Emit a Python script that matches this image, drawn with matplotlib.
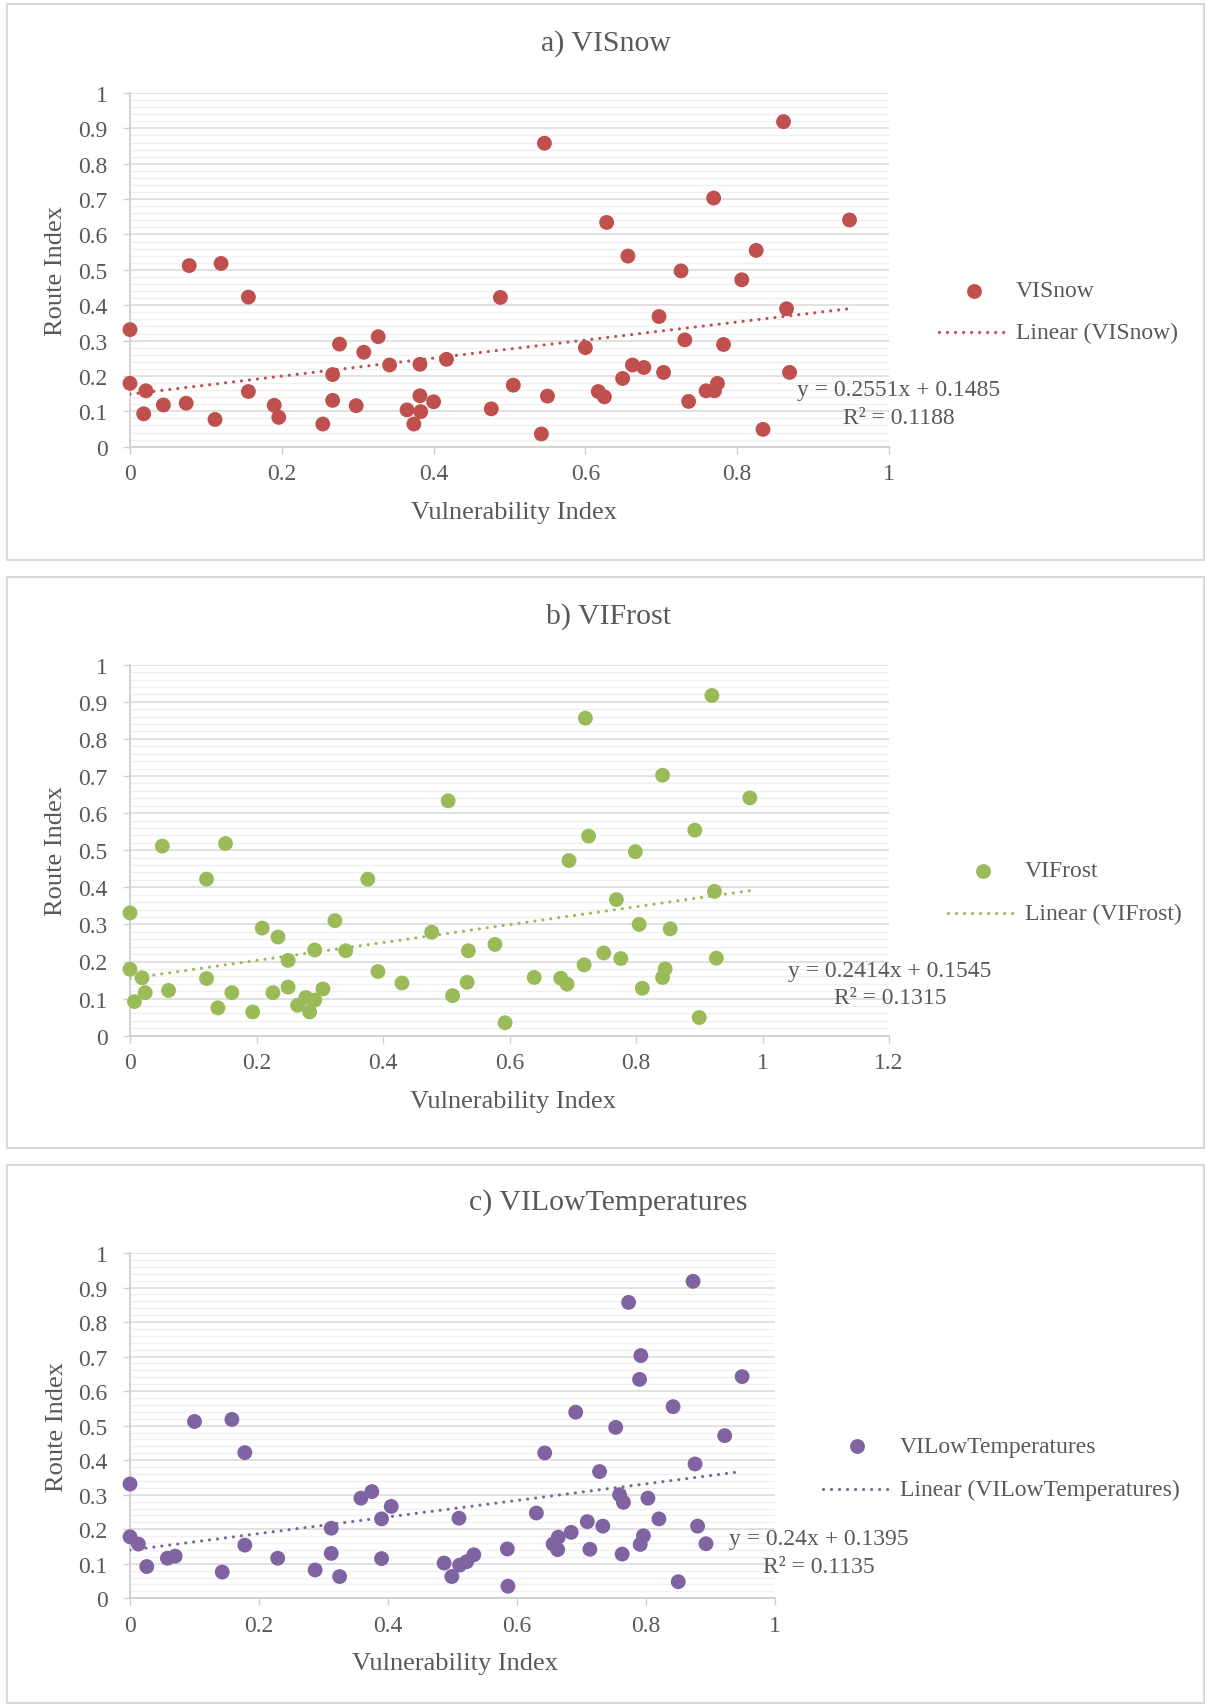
import matplotlib
matplotlib.use("Agg")
import matplotlib.pyplot as plt
from matplotlib.patches import Rectangle
from matplotlib.ticker import MultipleLocator, FuncFormatter

plt.rcParams['font.family'] = ['Liberation Serif', 'DejaVu Serif']

# ---------------- data ----------------
titles = ["a) VISnow", "b) VIFrost", "c) VILowTemperatures"]
series_names = ["VISnow", "VIFrost", "VILowTemperatures"]

snow_x = [0, 0, 0.021, 0.018, 0.044, 0.074, 0.078, 0.112, 0.120, 0.156, 0.156, 0.190, 0.196,
          0.254, 0.267, 0.267, 0.276, 0.298, 0.308, 0.327, 0.342, 0.365, 0.374, 0.382, 0.382,
          0.383, 0.400, 0.417, 0.476, 0.488, 0.505, 0.546, 0.550, 0.542, 0.600, 0.617, 0.625,
          0.628, 0.649, 0.656, 0.662, 0.677, 0.697, 0.703, 0.726, 0.731, 0.736, 0.759, 0.770,
          0.774, 0.769, 0.782, 0.806, 0.825, 0.834, 0.861, 0.865, 0.869, 0.948]
snow_y = [0.331, 0.179, 0.158, 0.093, 0.118, 0.123, 0.512, 0.077, 0.518, 0.423, 0.156, 0.117,
          0.083, 0.064, 0.204, 0.131, 0.290, 0.116, 0.267, 0.311, 0.231, 0.104, 0.064, 0.233,
          0.144, 0.099, 0.127, 0.247, 0.107, 0.422, 0.174, 0.858, 0.143, 0.036, 0.280, 0.156,
          0.141, 0.634, 0.193, 0.539, 0.231, 0.224, 0.368, 0.210, 0.497, 0.302, 0.128, 0.158,
          0.158, 0.179, 0.703, 0.289, 0.472, 0.555, 0.049, 0.919, 0.390, 0.210, 0.641]

frost_x = [0, 0, 0.007, 0.019, 0.024, 0.051, 0.061, 0.121, 0.121, 0.139, 0.151, 0.161, 0.194,
           0.209, 0.226, 0.234, 0.250, 0.250, 0.265, 0.278, 0.284, 0.292, 0.292, 0.305, 0.324,
           0.341, 0.376, 0.392, 0.430, 0.477, 0.503, 0.510, 0.533, 0.535, 0.577, 0.593, 0.720,
           0.639, 0.681, 0.691, 0.694, 0.718, 0.725, 0.749, 0.769, 0.776, 0.799, 0.805, 0.810,
           0.842, 0.842, 0.846, 0.854, 0.893, 0.900, 0.920, 0.924, 0.927, 0.980]
frost_y = [0.331, 0.179, 0.092, 0.156, 0.116, 0.511, 0.122, 0.422, 0.154, 0.075, 0.518, 0.116,
           0.064, 0.290, 0.116, 0.266, 0.203, 0.131, 0.082, 0.103, 0.064, 0.096, 0.231, 0.126,
           0.310, 0.229, 0.422, 0.173, 0.142, 0.279, 0.633, 0.108, 0.144, 0.229, 0.246, 0.035,
           0.856, 0.157, 0.155, 0.139, 0.472, 0.191, 0.538, 0.223, 0.367, 0.208, 0.496, 0.300,
           0.128, 0.702, 0.157, 0.180, 0.288, 0.554, 0.049, 0.917, 0.389, 0.209, 0.641]

lowtemp_x = [0, 0, 0.013, 0.026, 0.058, 0.070, 0.100, 0.143, 0.158, 0.178, 0.178, 0.229, 0.287,
             0.312, 0.312, 0.325, 0.358, 0.375, 0.390, 0.390, 0.405, 0.487, 0.499, 0.510, 0.511,
             0.522, 0.533, 0.585, 0.586, 0.630, 0.643, 0.656, 0.664, 0.663, 0.684, 0.691, 0.709,
             0.713, 0.728, 0.733, 0.753, 0.759, 0.765, 0.763, 0.773, 0.792, 0.790, 0.803, 0.796,
             0.791, 0.820, 0.842, 0.850, 0.873, 0.876, 0.880, 0.893, 0.922, 0.949]
lowtemp_y = [0.331, 0.178, 0.157, 0.092, 0.116, 0.122, 0.512, 0.076, 0.518, 0.422, 0.154, 0.116,
             0.082, 0.203, 0.130, 0.063, 0.290, 0.309, 0.230, 0.115, 0.266, 0.102, 0.063, 0.232,
             0.096, 0.106, 0.126, 0.143, 0.035, 0.247, 0.421, 0.157, 0.177, 0.141, 0.191, 0.539,
             0.222, 0.142, 0.367, 0.209, 0.495, 0.300, 0.278, 0.128, 0.857, 0.703, 0.634, 0.290,
             0.181, 0.156, 0.230, 0.555, 0.048, 0.918, 0.389, 0.209, 0.158, 0.471, 0.642]

trend_slope = [0.2551, 0.2414, 0.24]
trend_intercept = [0.1485, 0.1545, 0.1395]
trend_r2 = [0.1188, 0.1315, 0.1135]
x_max = [1.0, 1.2, 1.0]

xs_all = [snow_x, frost_x, lowtemp_x]
ys_all = [snow_y, frost_y, lowtemp_y]
colors = ["#C0504D", "#9BBB59", "#8064A2"]

# ---------------- layout (pixels) ----------------
W, H = 1205, 1706
TEXT = "#595959"
GRID_MAJOR = "#D9D9D9"
GRID_MINOR = "#F0F0F0"
AXIS_C = "#CFCFCF"

layout = [
    dict(box=(7, 5, 1204, 560.5), ax=(130, 94, 889, 447.7), title=(606, 43.5),
         xlab=(513.8, 513), leg_mark=(974, 291.5), leg_line=(939, 1008, 333.3), leg_text=1016,
         eq=(899, 390.5, 418.7)),
    dict(box=(7, 578, 1204, 1149), ax=(130, 665.7, 889, 1036.7), title=(608.5, 616.7),
         xlab=(513, 1101.7), leg_mark=(982.7, 871.7), leg_line=(947.7, 1017.3, 914), leg_text=1025,
         eq=(890, 971, 998.4)),
    dict(box=(7, 1166, 1204, 1704), ax=(130, 1254, 775, 1599.3), title=(608.5, 1203),
         xlab=(454.6, 1664), leg_mark=(857.3, 1447.3), leg_line=(822.7, 891.7, 1490), leg_text=900,
         eq=(819, 1539.3, 1568)),
]

fig = plt.figure(figsize=(W / 100, H / 100), dpi=100)
fig.patch.set_facecolor("white")

# transparent full-figure layer (pixel coordinates) for frames, titles, legends and equations
overlay = fig.add_axes([0, 0, 1, 1], zorder=5)
overlay.set_xlim(0, W)
overlay.set_ylim(H, 0)
overlay.axis("off")
overlay.patch.set_alpha(0)

MS = 10.7
DOT_LS = (0, (0.01, 2.5))


def fmt(v, _pos=None):
    return f"{round(v, 2):g}"


for i in range(3):
    L = layout[i]
    c = colors[i]
    x, y = xs_all[i], ys_all[i]

    # panel frame
    bx0, by0, bx1, by1 = L["box"]
    overlay.add_patch(Rectangle((bx0, by0), bx1 - bx0, by1 - by0, fill=False,
                                edgecolor=GRID_MAJOR, lw=1.5))

    ax0, ay0, ax1, ay1 = L["ax"]
    ax = fig.add_axes([ax0 / W, 1 - ay1 / H, (ax1 - ax0) / W, (ay1 - ay0) / H], zorder=2)
    ax.patch.set_alpha(0)
    ax.set_xlim(0, x_max[i])
    ax.set_ylim(0, 1)

    ax.yaxis.set_major_locator(MultipleLocator(0.1))
    ax.yaxis.set_minor_locator(MultipleLocator(0.02))
    ax.xaxis.set_major_locator(MultipleLocator(0.2))
    ax.xaxis.set_major_formatter(FuncFormatter(fmt))
    ax.yaxis.set_major_formatter(FuncFormatter(fmt))

    ax.grid(axis="y", which="minor", color=GRID_MINOR, lw=1.0, zorder=0)
    ax.grid(axis="y", which="major", color=GRID_MAJOR, lw=1.1, zorder=0)
    ax.set_axisbelow(True)

    for s in ("top", "right"):
        ax.spines[s].set_visible(False)
    for s in ("left", "bottom"):
        ax.spines[s].set_color(AXIS_C)
        ax.spines[s].set_linewidth(1.3)

    ax.tick_params(axis="both", which="major", direction="out", length=5, width=1.0,
                   color=AXIS_C, labelcolor=TEXT, labelsize=17)
    ax.tick_params(axis="y", which="major", pad=11)
    ax.tick_params(axis="x", which="major", pad=7)
    ax.tick_params(axis="both", which="minor", length=0)

    # points
    ax.scatter(x, y, s=MS ** 2, color=c, edgecolors="none", zorder=3, clip_on=False)

    # linear trend line
    tx = [min(x), max(x)]
    ty = [trend_slope[i] * v + trend_intercept[i] for v in tx]
    ax.plot(tx, ty, color=c, lw=2.3, linestyle=DOT_LS, dash_capstyle="round", zorder=4)

    # axis labels
    ax.set_xlabel("Vulnerability Index", fontsize=19, color=TEXT, va="center")
    ax.xaxis.set_label_coords((L["xlab"][0] - ax0) / (ax1 - ax0),
                              (ay1 - L["xlab"][1]) / (ay1 - ay0))
    ax.set_ylabel("Route Index", fontsize=19, color=TEXT, va="center")
    ax.yaxis.set_label_coords((56.5 - ax0) / (ax1 - ax0), 0.5)

    # title
    overlay.text(L["title"][0], L["title"][1], titles[i], fontsize=21.5, color=TEXT,
                 ha="center", va="center")

    # legend
    mx, my = L["leg_mark"]
    overlay.plot([mx], [my], "o", ms=MS, color=c, mec="none")
    overlay.text(L["leg_text"], my, series_names[i], fontsize=17, color=TEXT,
                 ha="left", va="center")
    lx0, lx1, ly = L["leg_line"]
    overlay.plot([lx0, lx1], [ly, ly], color=c, lw=2.3, linestyle=DOT_LS,
                 dash_capstyle="round")
    overlay.text(L["leg_text"], ly, f"Linear ({series_names[i]})", fontsize=17, color=TEXT,
                 ha="left", va="center")

    # trend equation
    ex, ey1, ey2 = L["eq"]
    overlay.text(ex, ey1, f"y = {trend_slope[i]:g}x + {trend_intercept[i]:g}", fontsize=17,
                 color=TEXT, ha="center", va="center")
    overlay.text(ex, ey2, f"R² = {trend_r2[i]:g}", fontsize=17, color=TEXT,
                 ha="center", va="center")

fig.savefig("out.png", dpi=100, facecolor="white")
